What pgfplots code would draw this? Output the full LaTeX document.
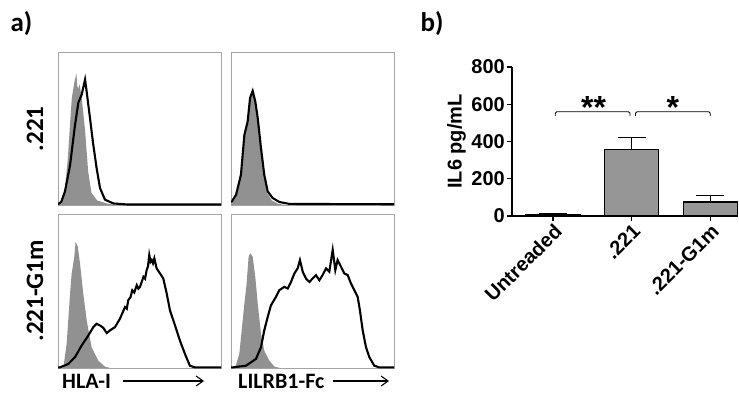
\documentclass[border=0pt]{standalone}
\usepackage{fontspec}
\setmainfont{Carlito}
\newfontfamily\arialf{Liberation Sans}
\usepackage{pgfplots}
\pgfplotsset{compat=1.18}
\usetikzlibrary{arrows.meta}

\definecolor{histgray}{RGB}{145,145,145}
\definecolor{bargray}{RGB}{150,150,150}
\definecolor{boxgray}{RGB}{165,165,165}

\pgfplotsset{histax/.style={scale only axis, width=163pt, xmin=0, xmax=100, ymin=0, ymax=100,
  ticks=none, axis line style={boxgray, line width=0.9pt}, anchor=south west}}

\begin{document}
\begin{tikzpicture}[x=1pt,y=1pt]
\path[use as bounding box] (0,0) rectangle (739,392);

% ---------- top-left: .221 / HLA-I
\begin{axis}[histax, at={(58pt,187pt)}, height=153pt]
\addplot[fill=histgray, draw=none] coordinates {(0,0) (2,1) (4,8) (6,30) (7.5,55) (8.5,70) (10,80) (11.3,86) (11.8,78) (12.5,76) (13.3,79) (14.5,70) (16.5,50) (18.5,22) (20.5,8) (24,3) (30,1) (35,0) (100,0)} \closedcycle;
\addplot[black, line width=2.1pt] coordinates {(0,0.5) (2,2) (4.3,9) (7.4,26) (10.4,52) (12.5,67) (14.5,72) (16.6,82) (17.6,74) (19.6,57) (21.7,39) (23.7,24) (25.8,11) (28.8,3.5) (34,1) (43,0.3) (100,0.3)};
\end{axis}

% ---------- top-right: .221 / LILRB1-Fc
\begin{axis}[histax, at={(231pt,187pt)}, height=153pt]
\addplot[fill=histgray, draw=none] coordinates {(0,0) (1,2) (3.3,6) (6.2,19) (8.3,45) (10.2,53.5) (11.7,69) (13.3,73.5) (14.8,67) (16.3,56) (18.3,36) (20.3,18.5) (22.3,7.5) (25,3) (29,0.8) (33,0) (100,0)} \closedcycle;
\addplot[black, line width=2.1pt] coordinates {(0,2) (0.6,2.4) (3.1,6.7) (6.1,19.8) (8.2,45.8) (10.2,54.5) (11.7,70) (13.3,74.6) (14.9,67.7) (16.4,56.8) (18.4,37.2) (20.4,19.8) (22.5,8.9) (25.5,4.6) (29.6,2) (35.8,0.7) (100,0.5)};
\end{axis}

% ---------- bottom-left: .221-G1m / HLA-I
\begin{axis}[histax, at={(58pt,24pt)}, height=154pt]
\addplot[fill=histgray, draw=none] coordinates {(0,0) (3.3,0.4) (5.3,15.6) (7.4,48.3) (8.4,61.4) (10,72.3) (10.8,82) (12.1,78.9) (13.5,68) (15.5,48.3) (17.6,31) (20.6,13.5) (24.7,4.8) (28.8,0.9) (32,0) (100,0)} \closedcycle;
\addplot[black, line width=2.1pt] coordinates {(0,0.4) (1.2,0.4) (6.3,2.6) (10.4,7) (14.5,14.6) (18.6,21.1) (21.7,26.6) (23.7,28.7) (25.8,27.6) (27.8,26.1) (29.9,22.7) (31.9,24.4) (35,26.6) (38,32) (41.1,39.6) (42.2,38.5) (43.1,44) (44.5,46) (45.6,50.5) (46.8,49) (48.3,53.8) (49.3,51.5) (50.3,52.7) (51.4,56) (52.4,59.2) (53.4,58) (54.4,63.6) (55.2,66) (56,73.4) (56.8,69) (57.5,70.1) (58.3,68) (59.1,71.2) (60.5,64.7) (62.6,61.4) (64.6,58.1) (66.7,48.3) (68.7,37.4) (71.8,27.6) (74.8,17.8) (77.9,9.1) (80.9,1.5) (84,0.4) (100,0.4)};
\end{axis}

% ---------- bottom-right: .221-G1m / LILRB1-Fc
\begin{axis}[histax, at={(231pt,24pt)}, height=154pt]
\addplot[fill=histgray, draw=none] coordinates {(0,0) (2.7,0.8) (5.1,9.1) (8.2,41.8) (9.6,54.9) (10.8,72.3) (11.7,74.5) (13.3,72.3) (14.9,59.2) (16.4,41.8) (18.4,22.2) (20.4,11.3) (23.5,4.8) (26.6,0.9) (30,0) (100,0)} \closedcycle;
\addplot[black, line width=2.1pt] coordinates {(0,0.4) (1,0.4) (9.2,1.5) (15.3,5.9) (18.4,13.5) (20.4,24.4) (22.5,33.1) (24.5,40.7) (27.6,46.2) (29.6,50.5) (32.7,52.7) (34.8,51.6) (36.8,55.9) (38.9,61.4) (40.9,64.7) (42.3,70.1) (44,62.5) (46,58.1) (48.1,55.9) (50.1,58.1) (52.1,60.3) (54.2,57) (56.2,60.3) (58.3,64.7) (60.3,62.5) (62.4,76.7) (64,63.6) (65.4,70.1) (67.5,65.8) (69.5,61.4) (71.6,60.3) (73.6,54.9) (75.7,50.5) (77.7,46.2) (79.1,37.4) (80.8,24.4) (82.8,13.5) (84.9,7) (87.9,1.5) (91,0.4) (100,0.4)};
\end{axis}

% ---------- panel a labels
\node[font=\bfseries\fontsize{27}{27}\selectfont, anchor=west] at (7,368) {a)};
\node[font=\bfseries\fontsize{25}{25}\selectfont, rotate=90] at (35,263) {.221};
\node[font=\bfseries\fontsize{25}{25}\selectfont, rotate=90] at (35,101) {.221-G1m};
\node[font=\bfseries\fontsize{22}{22}\selectfont, anchor=base west, inner sep=0pt] at (62,4) {HLA-I};
\draw[line width=1.1pt, -{Straight Barb[length=7pt,width=10pt]}] (123,11) -- (204,11);
\node[font=\bfseries\fontsize{22}{22}\selectfont, anchor=base west, inner sep=0pt] at (238,4) {LILRB1-Fc};
\draw[line width=1.1pt, -{Straight Barb[length=7pt,width=10pt]}] (333,11) -- (389,11);
\node[font=\bfseries\fontsize{27}{27}\selectfont, anchor=west] at (417,368) {b)};

% ---------- panel b
\begin{axis}[at={(512pt,176pt)}, anchor=south west, scale only axis,
  width=225pt, height=149pt,
  xmin=-0.52, xmax=2.34, ymin=0, ymax=800,
  axis lines*=left, axis line style={line width=1.2pt},
  ytick={0,200,400,600,800}, xtick={0,1,2},
  xticklabels={Untreaded,.221,.221-G1m},
  tick align=outside, major tick length=5pt,
  tick style={line width=1.2pt, black},
  /pgf/number format/assume math mode=true,
  ticklabel style={font=\arialf\bfseries\fontsize{20}{20}\selectfont},
  xticklabel style={rotate=45, anchor=north east, inner sep=1pt},
  yticklabel style={inner sep=2pt},
  ylabel={IL6 pg/mL},
  ylabel style={font=\arialf\bfseries\fontsize{20}{20}\selectfont},
  clip=false]
\addplot[ybar, bar width=0.69, fill=bargray, draw=black, line width=1.2pt,
  error bars/.cd, y dir=plus, y explicit,
  error bar style={line width=1.2pt, black},
  error mark options={line width=1.2pt, mark size=14pt, black, rotate=90}]
  coordinates {(0,8) +- (0,4) (1,355) +- (0,65) (2,75) +- (0,37)};
\draw[line width=0.9pt, rounded corners=1.5pt] (axis cs:0.03,537) -- (axis cs:0.03,560) -- (axis cs:0.98,560) -- (axis cs:0.98,537);
\draw[line width=0.9pt, rounded corners=1.5pt] (axis cs:1.05,537) -- (axis cs:1.05,560) -- (axis cs:2.0,560) -- (axis cs:2.0,537);
\node[font=\arialf\bfseries\fontsize{32}{32}\selectfont, anchor=base, inner sep=0pt] at (axis cs:0.516,524) {**};
\node[font=\arialf\bfseries\fontsize{32}{32}\selectfont, anchor=base, inner sep=0pt] at (axis cs:1.525,524) {*};
\end{axis}
\end{tikzpicture}
\end{document}
